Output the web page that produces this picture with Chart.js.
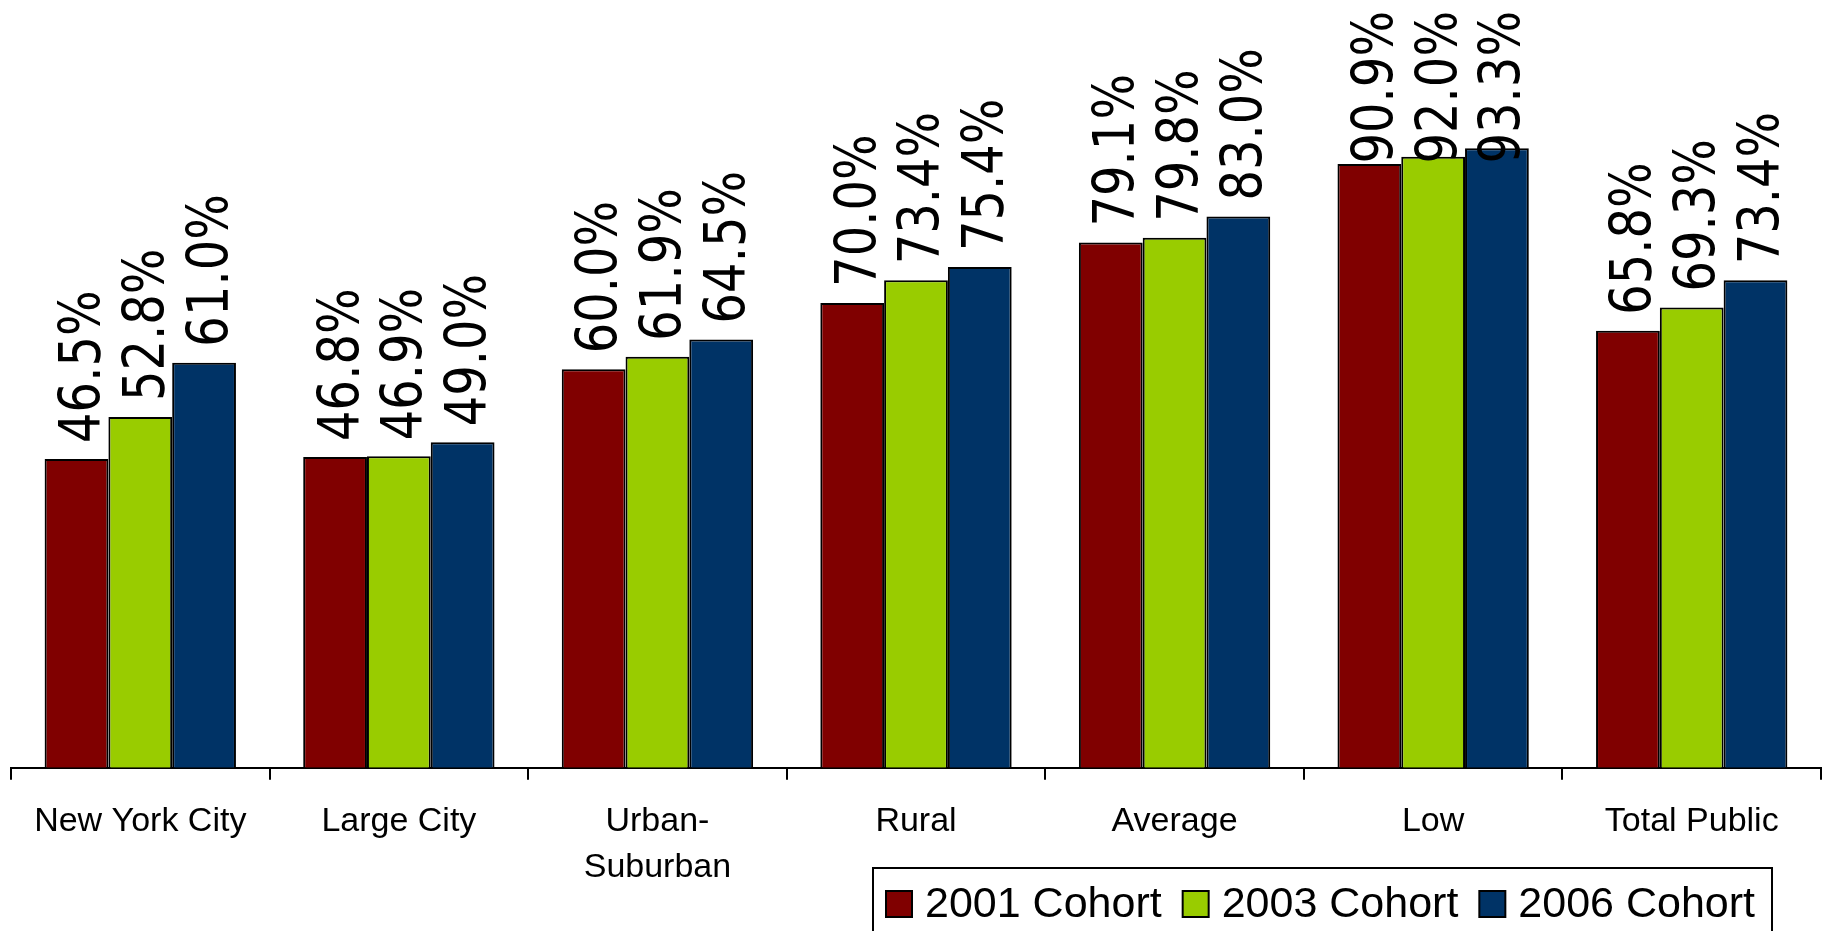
<!DOCTYPE html>
<html>
<head>
<meta charset="utf-8">
<title>Cohort graduation rates</title>
<script src="https://cdn.jsdelivr.net/npm/chart.js@4/dist/chart.umd.min.js"></script>
<style>
  html, body { margin: 0; padding: 0; background: #fff; }
  canvas { display: block; }
</style>
</head>
<body>
<canvas id="cohortChart" width="1828" height="931"></canvas>
<script>
// categories and cohort values (percent)
const categories = ['New York City', 'Large City', ['Urban-', 'Suburban'], 'Rural', 'Average', 'Low', 'Total Public'];
const cohort2001 = [46.5, 46.8, 60.0, 70.0, 79.1, 90.9, 65.8];
const cohort2003 = [52.8, 46.9, 61.9, 73.4, 79.8, 92.0, 69.3];
const cohort2006 = [61.0, 49.0, 64.5, 75.4, 83.0, 93.3, 73.4];
const seriesNames = ['2001 Cohort', '2003 Cohort', '2006 Cohort'];
const seriesColors = ['#800000', '#99CC00', '#003366'];

Chart.defaults.font.family = "'Liberation Sans', Arial, sans-serif";
Chart.defaults.color = '#000';

// rotated value labels above each bar
const valueLabels = {
    id: 'valueLabels',
    afterDatasetsDraw(chart) {
        const ctx = chart.ctx;
        const size = 48;
        ctx.save();
        ctx.font = size + "px 'DejaVu Sans'";
        ctx.fillStyle = '#000';
        ctx.textAlign = 'left';
        ctx.textBaseline = 'alphabetic';
        chart.data.datasets.forEach((ds, i) => {
            const meta = chart.getDatasetMeta(i);
            meta.data.forEach((bar, j) => {
                const txt = ds.data[j].toFixed(1) + '%';
                const len = ctx.measureText(txt).width;
                const y = Math.max(bar.y - 16, 11 + len);
                ctx.save();
                ctx.translate(bar.x + 3, y);
                ctx.scale(1.17, 1);
                ctx.rotate(-Math.PI / 2);
                ctx.fillText(txt, 0, size * 0.729 / 2);
                ctx.restore();
            });
        });
        ctx.restore();
    }
};

// boxed legend under the right part of the axis
const boxLegend = {
    id: 'boxLegend',
    afterDraw(chart) {
        const ctx = chart.ctx;
        const sq = 26;
        let x = 886;
        const base = 917;
        ctx.save();
        ctx.font = "43px 'Liberation Sans', Arial, sans-serif";
        ctx.textBaseline = 'alphabetic';
        chart.data.datasets.forEach((ds, i) => {
            ctx.fillStyle = ds.backgroundColor;
            ctx.fillRect(x, base - sq, sq, sq);
            ctx.strokeStyle = '#000';
            ctx.lineWidth = 2;
            ctx.strokeRect(x, base - sq, sq, sq);
            x += sq + 13;
            ctx.fillStyle = '#000';
            ctx.fillText(ds.label, x, base);
            x += ctx.measureText(ds.label).width;
            if (i < chart.data.datasets.length - 1) x += 21;
        });
        ctx.strokeStyle = '#000';
        ctx.lineWidth = 2;
        ctx.strokeRect(873, 868, x + 17 - 873, 100);
        ctx.restore();
    }
};

const ctx = document.getElementById('cohortChart').getContext('2d');
const cohortChart = new Chart(ctx, {
    type: 'bar',
    data: {
        labels: categories,
        datasets: [
            { label: seriesNames[0], data: cohort2001, backgroundColor: seriesColors[0] },
            { label: seriesNames[1], data: cohort2003, backgroundColor: seriesColors[1] },
            { label: seriesNames[2], data: cohort2006, backgroundColor: seriesColors[2] }
        ]
    },
    options: {
        responsive: false,
        animation: false,
        layout: { padding: { left: 11, right: 7, top: 103.7, bottom: 0 } },
        datasets: {
            bar: {
                borderColor: '#000',
                borderWidth: 2,
                categoryPercentage: 0.74,
                barPercentage: 1
            }
        },
        plugins: {
            legend: { display: false },
            tooltip: { enabled: false }
        },
        scales: {
            y: {
                display: false,
                min: 0,
                max: 100
            },
            x: {
                afterFit(scale) { scale.height = 163.3; },
                border: { display: true, color: '#000', width: 2 },
                grid: {
                    drawOnChartArea: false,
                    drawTicks: true,
                    tickLength: 12,
                    color: '#000',
                    lineWidth: 2
                },
                ticks: {
                    padding: 19,
                    maxRotation: 0,
                    autoSkip: false,
                    color: '#000',
                    font: { size: 34, lineHeight: 1.35 }
                }
            }
        }
    },
    plugins: [valueLabels, boxLegend]
});
</script>
</body>
</html>
